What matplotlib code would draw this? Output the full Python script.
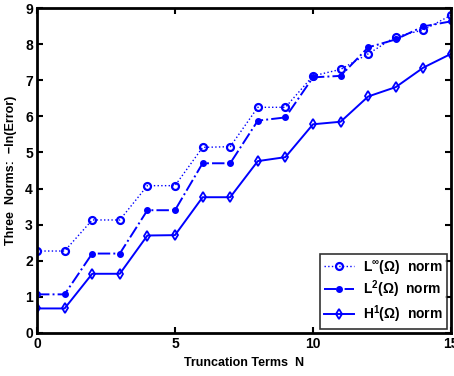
import matplotlib
matplotlib.use("Agg")
import matplotlib.pyplot as plt

plt.rcParams['font.family'] = ['Liberation Sans', 'DejaVu Sans']
plt.rcParams['font.weight'] = 'bold'
plt.rcParams['mathtext.fontset'] = 'custom'
plt.rcParams['mathtext.rm'] = 'Liberation Sans:bold'
plt.rcParams['mathtext.bf'] = 'Liberation Sans:bold'

terms = list(range(16))
linf_norm = [2.27, 2.27, 3.13, 3.13, 4.08, 4.08, 5.14, 5.16, 6.25, 6.25,
             7.12, 7.30, 7.73, 8.21, 8.39, 8.80]
l2_norm = [1.07, 1.07, 2.20, 2.20, 3.40, 3.40, 4.70, 4.70, 5.88, 5.97,
           7.08, 7.12, 7.91, 8.13, 8.49, 8.63]
h1_norm = [0.68, 0.68, 1.64, 1.64, 2.70, 2.71, 3.76, 3.76, 4.76, 4.87,
           5.78, 5.85, 6.55, 6.81, 7.35, 7.73]
xticks = [0, 5, 10, 15]
yticks = list(range(10))

fig = plt.figure(figsize=(4.54, 3.76), dpi=100)
ax = fig.add_axes([37/454, 43/376, 414/454, 325/376])

blue = (0, 0, 1)
ax.plot(terms, linf_norm, linestyle=':', color=blue, lw=1.0, marker='o',
        markersize=5, markerfacecolor='none', markeredgewidth=1.6,
        label=r'L$^{\infty}$(Ω)  norm')
ax.plot(terms, l2_norm, linestyle='-.', color=blue, lw=1.4, marker='.',
        markersize=8, label=r'L$^{2}$(Ω)  norm')
ax.plot(terms, h1_norm, linestyle='-', color=blue, lw=1.4, marker='d',
        markersize=5, markerfacecolor='none', markeredgewidth=1.3,
        label=r'H$^{1}$(Ω)  norm')

ax.set_xlim(0, 15)
ax.set_ylim(0, 9)
ax.set_xticks(xticks)
ax.set_yticks(yticks)
ax.tick_params(direction='in', top=True, right=True, labelsize=10,
               width=1.5, length=4, pad=3)
for lbl in ax.get_xticklabels() + ax.get_yticklabels():
    lbl.set_fontweight('bold')
for sp in ax.spines.values():
    sp.set_linewidth(2)

ax.set_xlabel('Truncation Terms  N', fontsize=9, fontweight='bold', labelpad=4)
ax.set_ylabel('Three  Norms:  \u2212ln(Error)', fontsize=9, fontweight='bold',
              labelpad=6)

leg = ax.legend(loc='lower right', fontsize=10, frameon=True, fancybox=False,
                edgecolor='black', borderpad=0.3, handlelength=2.2,
                labelspacing=0.2, borderaxespad=0.3, handletextpad=0.6)
leg.get_frame().set_linewidth(1.2)
for t in leg.get_texts():
    t.set_fontweight('bold')

fig.savefig('out.png', dpi=100)
